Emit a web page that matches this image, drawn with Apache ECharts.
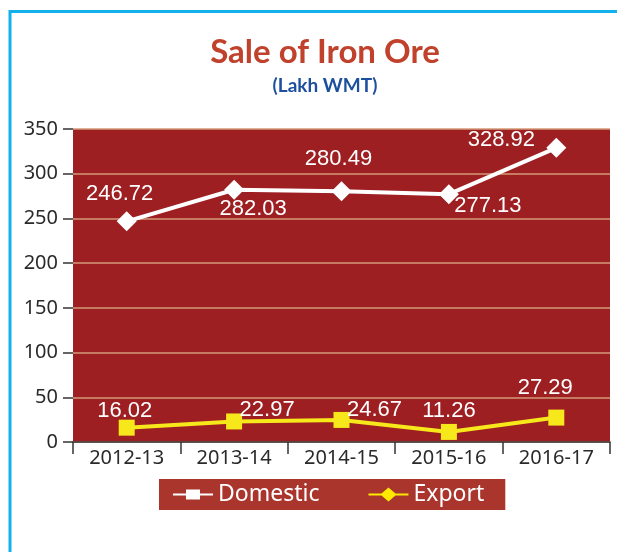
<!DOCTYPE html>
<html>
<head>
<meta charset="utf-8">
<title>Sale of Iron Ore</title>
<script src="https://cdn.jsdelivr.net/npm/echarts@6/dist/echarts.min.js"></script>
<style>
  html, body { margin: 0; padding: 0; background: #fff; }
  #chart { width: 617px; height: 552px; }
</style>
</head>
<body>
<div id="chart"></div>
<script>
// data
var years = ["2012-13", "2013-14", "2014-15", "2015-16", "2016-17"];
var domestic = [246.72, 282.03, 280.49, 277.13, 328.92];
var exportSale = [16.02, 22.97, 24.67, 11.26, 27.29];
var yTicks = [0, 50, 100, 150, 200, 250, 300, 350];

// where each value label sits, relative to its point
var domesticLabelOffset = [[-7, -27], [19, 19], [-3, -32], [39, 12], [-55, -8]];
var exportLabelOffset = [[-2, -17], [33, -12], [33, -10], [0, -21], [-11, -30]];

var chart = echarts.init(document.getElementById("chart"));

function withLabels(values, offsets) {
    return values.map(function (v, i) {
        return {
            value: v,
            label: { position: "inside", offset: offsets[i] }
        };
    });
}

var labelStyle = {
    show: true,
    color: "#fff",
    fontSize: 22,
    fontFamily: "Liberation Sans"
};

var option = {
    animation: false,
    title: {
        text: "Sale of Iron Ore",
        subtext: "(Lakh WMT)",
        left: 320,
        top: 31,
        textAlign: "center",
        itemGap: 7,
        textStyle: {
            color: "#c0412c",
            fontSize: 33,
            fontWeight: "bold",
            fontFamily: "Lato"
        },
        subtextStyle: {
            color: "#1c4f9e",
            fontSize: 19,
            fontWeight: "bold",
            fontFamily: "Lato"
        }
    },
    // blue frame top and left
    graphic: [
        { type: "line", shape: { x1: 10, y1: 11.5, x2: 617, y2: 11.5 }, style: { stroke: "#12b1ec", lineWidth: 3 } },
        { type: "line", shape: { x1: 10, y1: 10, x2: 10, y2: 552 }, style: { stroke: "#12b1ec", lineWidth: 3 } }
    ],
    legend: {
        left: 159,
        top: 479,
        backgroundColor: "#a9352c",
        padding: [4, 21, 4, 14],
        itemGap: 49,
        itemWidth: 40,
        itemHeight: 14,
        textStyle: { color: "#fff", fontSize: 23, fontFamily: "Noto Sans" },
        data: [
            { name: "Domestic", icon: "path://M0,6H13V2H27V6H40V8H27V12H13V8H0Z", itemStyle: { color: "#fff" } },
            { name: "Export", icon: "path://M0,6H13L20,0L27,6H40V8H27L20,14L13,8H0Z", itemStyle: { color: "#ffe900" } }
        ]
    },
    grid: {
        left: 73,
        right: 7,
        top: 129,
        bottom: 110,
        show: true,
        backgroundColor: "#9d1f22",
        borderWidth: 0
    },
    xAxis: {
        type: "category",
        data: years,
        boundaryGap: true,
        axisLine: { show: true, lineStyle: { color: "#333", width: 1.5 } },
        axisTick: { show: true, length: 12, lineStyle: { color: "#333", width: 1.5 } },
        axisLabel: { color: "#2a2a2a", fontSize: 20, fontFamily: "Noto Sans", margin: 6 }
    },
    yAxis: {
        type: "value",
        min: yTicks[0],
        max: yTicks[yTicks.length - 1],
        interval: yTicks[1] - yTicks[0],
        axisLine: { show: false },
        axisTick: { show: true, length: 10, lineStyle: { color: "#333", width: 1.5 } },
        axisLabel: { color: "#2a2a2a", fontSize: 20, fontFamily: "Noto Sans", margin: 15 },
        splitLine: { show: true, lineStyle: { color: "#d49a78", width: 1.5 } }
    },
    series: [
        {
            name: "Domestic",
            type: "line",
            data: withLabels(domestic, domesticLabelOffset),
            symbol: "diamond",
            symbolSize: 20,
            lineStyle: { color: "#fff", width: 4 },
            itemStyle: { color: "#fff" },
            label: labelStyle
        },
        {
            name: "Export",
            type: "line",
            data: withLabels(exportSale, exportLabelOffset),
            symbol: "rect",
            symbolSize: 16,
            lineStyle: { color: "#f6e81b", width: 4 },
            itemStyle: { color: "#f6e81b" },
            label: labelStyle
        }
    ]
};

chart.setOption(option);
</script>
</body>
</html>
